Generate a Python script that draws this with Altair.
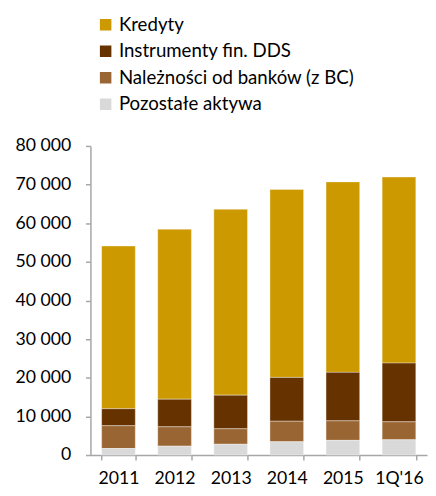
import altair as alt
import pandas as pd

years = ["2011", "2012", "2013", "2014", "2015", "1Q'16"]
series = ["Kredyty", "Instrumenty fin. DDS", "Należności od banków (z BC)", "Pozostałe aktywa"]
colors = ["#CC9900", "#663300", "#996633", "#D9D9D9"]
kredyty = [42100, 44000, 48100, 48650, 49300, 48150]
dds = [4400, 7150, 8700, 11350, 12550, 15200]
naleznosci = [5900, 5000, 4000, 5300, 5050, 4650]
pozostale = [1700, 2300, 2800, 3450, 3800, 3950]
y_ticks = [0, 10000, 20000, 30000, 40000, 50000, 60000, 70000, 80000]

rows = []
for name, vals in zip(series, [kredyty, dds, naleznosci, pozostale]):
    for yr, v in zip(years, vals):
        rows.append({"rok": yr, "seria": name, "wartosc": v, "kolejnosc": 3 - series.index(name)})
df = pd.DataFrame(rows)

FONT = "Lato"

chart = alt.Chart(df).mark_bar(stroke="#FFFFFF", strokeWidth=0.6, strokeOpacity=0.6).encode(
    x=alt.X("rok:N", sort=years, title=None,
            scale=alt.Scale(paddingInner=0.4, paddingOuter=0.2),
            axis=alt.Axis(labelAngle=0, tickBand="extent", labelFontSize=18, labelFont=FONT,
                          labelColor="#000000", labelPadding=10, tickSize=5,
                          domainColor="#A6A6A6", tickColor="#A6A6A6", domainWidth=1.5, tickWidth=1.5)),
    y=alt.Y("wartosc:Q", stack="zero", title=None,
            scale=alt.Scale(domain=[0, 80000], nice=False),
            axis=alt.Axis(values=y_ticks, grid=False, labelFontSize=18, labelFont=FONT,
                          labelColor="#000000", labelPadding=15, tickSize=5,
                          labelExpr="replace(format(datum.value, ','), ',', ' ')",
                          domainColor="#A6A6A6", tickColor="#A6A6A6", domainWidth=1.5, tickWidth=1.5)),
    color=alt.Color("seria:N", scale=alt.Scale(domain=series, range=colors),
                    legend=alt.Legend(title=None, orient="none", legendX=6, legendY=-133,
                                      symbolType="square", symbolSize=137, symbolStrokeWidth=0,
                                      labelFontSize=19, labelFont=FONT, labelColor="#000000",
                                      labelLimit=0, labelOffset=4, rowPadding=7, padding=0)),
    order=alt.Order("kolejnosc:Q", sort="ascending"),
).properties(
    width=343, height=315,
    autosize=alt.AutoSizeParams(type="none"),
    padding={"left": 84, "top": 136, "right": 1, "bottom": 29},
).configure_view(stroke=None)

chart.save("out.html", embed_options={"renderer": "svg", "actions": False})
